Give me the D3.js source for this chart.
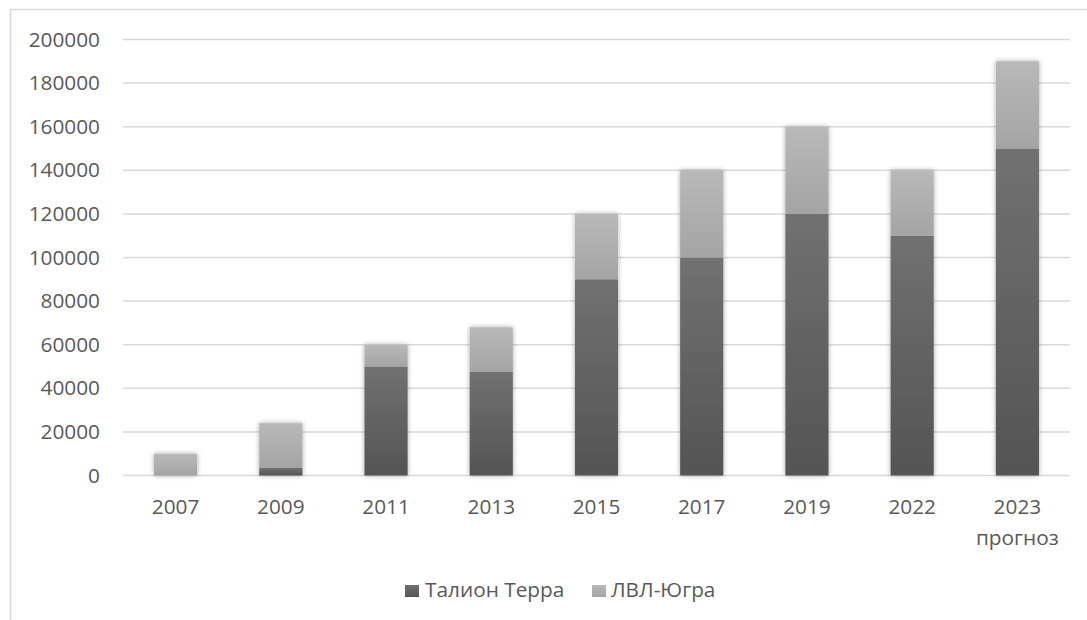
<!DOCTYPE html>
<html>
<head>
<meta charset="utf-8">
<script src="https://cdn.jsdelivr.net/npm/d3@7"></script>
<style>
  html, body { margin: 0; padding: 0; background: #fff; }
  svg { display: block; }
  text { font-family: "Open Sans", "Noto Sans", sans-serif; fill: #595959; }
</style>
</head>
<body>
<svg id="chart" width="1087" height="620"></svg>
<script>
// Chart data
const years = ["2007", "2009", "2011", "2013", "2015", "2017", "2019", "2022", "2023"];
const yearNotes = ["", "", "", "", "", "", "", "", "прогноз"];
const talionTerra = [0, 3500, 50000, 47500, 90000, 100000, 120000, 110000, 150000];
const lvlYugra = [10000, 20500, 10000, 20500, 30000, 40000, 40000, 30000, 40000];
const seriesNames = ["Талион Терра", "ЛВЛ-Югра"];
const yTicks = [0, 20000, 40000, 60000, 80000, 100000, 120000, 140000, 160000, 180000, 200000];

const FONT = 20.8;
const svg = d3.select("#chart");
const defs = svg.append("defs");

// vertical gradients for the two series
function gradient(id, top, bottom) {
  const g = defs.append("linearGradient").attr("id", id)
    .attr("x1", 0).attr("y1", 0).attr("x2", 0).attr("y2", 1);
  g.append("stop").attr("offset", "0%").attr("stop-color", top);
  g.append("stop").attr("offset", "100%").attr("stop-color", bottom);
}
gradient("gDark", "#717171", "#545454");
gradient("gLight", "#b9b9b9", "#a4a4a4");
const fills = ["url(#gDark)", "url(#gLight)"];

// soft shadow around each column
const f = defs.append("filter").attr("id", "glow")
  .attr("x", "-30%").attr("y", "-30%").attr("width", "160%").attr("height", "160%");
f.append("feDropShadow").attr("dx", 0).attr("dy", 0).attr("stdDeviation", 2.5)
  .attr("flood-color", "#000").attr("flood-opacity", 0.35);

// chart frame
svg.append("path").attr("d", "M10.5,620 L10.5,9.5 L1087,9.5")
  .attr("fill", "none").attr("stroke", "#d9d9d9").attr("stroke-width", 1.5);

const x = d3.scaleBand().domain(years).range([123, 1070])
  .paddingInner(0.59).paddingOuter(0.295);
const y = d3.scaleLinear().domain([0, 200000]).range([475.5, 39.5]);

// horizontal gridlines
svg.append("g").selectAll("line").data(yTicks).join("line")
  .attr("x1", 123).attr("x2", 1070)
  .attr("y1", d => y(d)).attr("y2", d => y(d))
  .attr("stroke", "#d9d9d9").attr("stroke-width", 1.5);

// y tick labels
const yAxis = d3.axisLeft(y).tickValues(yTicks).tickSize(0).tickPadding(0)
  .tickFormat(d3.format("d"));
const ya = svg.append("g").attr("transform", "translate(100,0)").call(yAxis);
ya.select(".domain").remove();
ya.selectAll("text").attr("font-size", FONT).attr("fill", "#595959")
  .style("font-family", '"Open Sans", sans-serif');

// stacked columns
const rows = years.map((yr, i) => ({ year: yr, talion: talionTerra[i], lvl: lvlYugra[i] }));
const stack = d3.stack().keys(["talion", "lvl"])(rows);

const cols = svg.append("g").selectAll("g").data(rows).join("g")
  .attr("filter", "url(#glow)");
cols.each(function (d, i) {
  const g = d3.select(this);
  stack.forEach((layer, k) => {
    const seg = layer[i];
    if (seg[1] - seg[0] <= 0) return;
    g.append("rect")
      .attr("x", x(d.year)).attr("width", x.bandwidth())
      .attr("y", y(seg[1])).attr("height", y(seg[0]) - y(seg[1]))
      .attr("fill", fills[k]);
  });
});

// x tick labels
const xa = svg.append("g");
years.forEach((yr, i) => {
  const cx = x(yr) + x.bandwidth() / 2;
  xa.append("text").attr("x", cx).attr("y", 514)
    .attr("text-anchor", "middle").attr("font-size", FONT).text(yr);
  if (yearNotes[i]) {
    xa.append("text").attr("x", cx).attr("y", 545)
      .attr("text-anchor", "middle").attr("font-size", FONT).text(yearNotes[i]);
  }
});

// legend
const legendItems = [{ name: seriesNames[0], sx: 405, tx: 425 }, { name: seriesNames[1], sx: 592, tx: 611 }];
const lg = svg.append("g");
legendItems.forEach((it, k) => {
  lg.append("rect").attr("x", it.sx).attr("y", 585).attr("width", 14).attr("height", 12)
    .attr("fill", fills[k]);
  lg.append("text").attr("x", it.tx).attr("y", 597).attr("font-size", FONT).text(it.name);
});
</script>
</body>
</html>
